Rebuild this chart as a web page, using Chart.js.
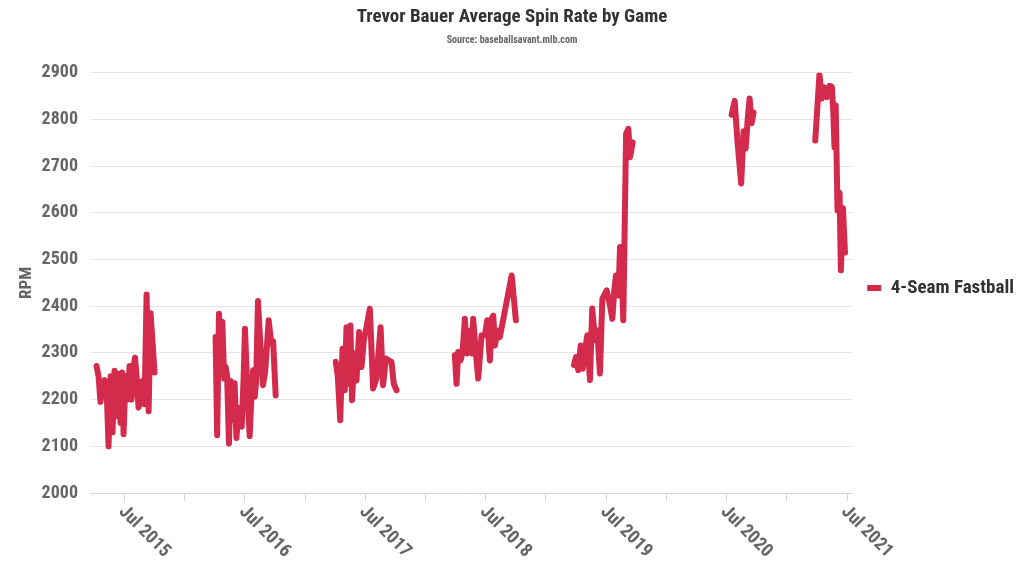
<!DOCTYPE html>
<html>
<head>
<meta charset="utf-8">
<title>Trevor Bauer Average Spin Rate by Game</title>
<script src="https://cdn.jsdelivr.net/npm/chart.js@4.4.1/dist/chart.umd.min.js"></script>
<style>
  html, body { margin: 0; padding: 0; background: #fff; }
  #wrap { width: 1024px; height: 576px; }
</style>
</head>
<body>
<div id="wrap"><canvas id="spinChart" width="1024" height="576"></canvas></div>
<script>
// game dates as fractional years, spin in RPM (4-seam fastball)
var games2015 = [2015.267, 2015.284, 2015.300, 2015.317, 2015.334, 2015.350, 2015.367, 2015.384, 2015.400, 2015.417, 2015.433, 2015.450, 2015.467, 2015.479, 2015.492, 2015.508, 2015.525, 2015.542, 2015.558, 2015.575, 2015.587, 2015.600, 2015.616, 2015.633, 2015.650, 2015.666, 2015.683, 2015.700, 2015.716, 2015.733, 2015.749];
var spin2015  = [2272, 2250, 2195, 2230, 2242, 2230, 2100, 2250, 2130, 2262, 2165, 2255, 2150, 2258, 2126, 2250, 2200, 2272, 2200, 2270, 2290, 2250, 2183, 2200, 2240, 2190, 2425, 2175, 2385, 2320, 2258];

var games2016 = [2016.256, 2016.269, 2016.284, 2016.298, 2016.312, 2016.327, 2016.340, 2016.352, 2016.367, 2016.381, 2016.398, 2016.414, 2016.429, 2016.448, 2016.460, 2016.473, 2016.489, 2016.500, 2016.518, 2016.539, 2016.556, 2016.568, 2016.581, 2016.593, 2016.608, 2016.626, 2016.650, 2016.668, 2016.697, 2016.718, 2016.734, 2016.755];
var spin2016  = [2334, 2124, 2384, 2300, 2366, 2245, 2270, 2250, 2106, 2240, 2156, 2235, 2118, 2182, 2160, 2142, 2250, 2352, 2230, 2122, 2220, 2263, 2206, 2240, 2411, 2327, 2231, 2260, 2370, 2320, 2325, 2209];

var games2017 = [2017.254, 2017.271, 2017.291, 2017.310, 2017.329, 2017.343, 2017.356, 2017.376, 2017.389, 2017.412, 2017.426, 2017.448, 2017.468, 2017.487, 2017.509, 2017.537, 2017.564, 2017.592, 2017.626, 2017.647, 2017.670, 2017.695, 2017.717, 2017.736, 2017.759];
var spin2017  = [2281, 2250, 2156, 2309, 2220, 2355, 2234, 2359, 2199, 2299, 2241, 2345, 2270, 2327, 2355, 2395, 2224, 2245, 2355, 2231, 2288, 2284, 2281, 2234, 2220];

var games2018 = [2018.243, 2018.257, 2018.271, 2018.291, 2018.307, 2018.326, 2018.345, 2018.368, 2018.387, 2018.395, 2018.418, 2018.437, 2018.465, 2018.493, 2018.512, 2018.534, 2018.548, 2018.562, 2018.576, 2018.595, 2018.617, 2018.715, 2018.750];
var spin2018  = [2295, 2234, 2302, 2284, 2302, 2373, 2299, 2348, 2299, 2373, 2299, 2245, 2338, 2338, 2370, 2284, 2373, 2380, 2316, 2348, 2334, 2466, 2370];

var games2019 = [2019.232, 2019.249, 2019.268, 2019.288, 2019.305, 2019.324, 2019.343, 2019.365, 2019.384, 2019.407, 2019.426, 2019.448, 2019.468, 2019.490, 2019.504, 2019.526, 2019.551, 2019.567, 2019.581, 2019.601, 2019.615, 2019.627, 2019.642, 2019.665, 2019.684, 2019.698, 2019.720];
var spin2019  = [2274, 2291, 2263, 2316, 2266, 2306, 2338, 2242, 2395, 2327, 2348, 2256, 2416, 2427, 2434, 2409, 2373, 2434, 2466, 2423, 2527, 2480, 2370, 2769, 2780, 2719, 2751];

var games2020 = [2020.542, 2020.567, 2020.591, 2020.621, 2020.641, 2020.658, 2020.675, 2020.691, 2020.708, 2020.724];
var spin2020  = [2810, 2840, 2750, 2663, 2775, 2738, 2800, 2845, 2792, 2815];

var games2021 = [2021.236, 2021.271, 2021.291, 2021.310, 2021.333, 2021.355, 2021.374, 2021.385, 2021.396, 2021.406, 2021.421, 2021.438, 2021.449, 2021.466, 2021.483];
var spin2021  = [2755, 2896, 2845, 2869, 2848, 2872, 2870, 2822, 2740, 2830, 2605, 2643, 2477, 2610, 2515];

var julTicks  = [2015.5, 2016.5, 2017.5, 2018.5, 2019.5, 2020.5, 2021.5];
var julLabels = ['Jul 2015', 'Jul 2016', 'Jul 2017', 'Jul 2018', 'Jul 2019', 'Jul 2020', 'Jul 2021'];
var janTicks  = [2016, 2017, 2018, 2019, 2020, 2021];

var seasons = [
	[games2015, spin2015],
	[games2016, spin2016],
	[games2017, spin2017],
	[games2018, spin2018],
	[games2019, spin2019],
	[games2020, spin2020],
	[games2021, spin2021]
];

// one series, with a null point between seasons so the line breaks
var points = [];
seasons.forEach(function(s, i){
	s[0].forEach(function(x, j){ points.push({x: x, y: s[1][j]}); });
	if (i < seasons.length - 1) {
		points.push({x: (s[0][s[0].length - 1] + seasons[i + 1][0][0]) / 2, y: null});
	}
});

var fontStack = "'Roboto Condensed', 'Liberation Sans Narrow', 'DejaVu Sans Condensed', Roboto, sans-serif";
var red = '#d42a4b';

// x labels are rotated the other way from chart.js default, so draw them here
var xLabelPlugin = {
	id: 'xLabels',
	afterDraw: function(chart) {
		var ctx = chart.ctx, xs = chart.scales.x;
		ctx.save();
		ctx.font = 'bold 18.5px ' + fontStack;
		ctx.fillStyle = '#666666';
		ctx.textAlign = 'left';
		ctx.textBaseline = 'middle';
		julTicks.forEach(function(v, i){
			var px = xs.getPixelForValue(v);
			ctx.save();
			ctx.translate(px - 3, xs.top + 16);
			ctx.rotate(Math.PI / 4);
			ctx.fillText(julLabels[i], 0, 0);
			ctx.restore();
		});
		ctx.restore();
	}
};

var spinChart = new Chart('spinChart', {
	type: 'line',
	data: {
		datasets: [{
			label: '4-Seam Fastball',
			data: points,
			borderColor: red,
			backgroundColor: red,
			borderWidth: 6,
			borderJoinStyle: 'round',
			borderCapStyle: 'round',
			pointRadius: 0,
			tension: 0,
			spanGaps: false
		}]
	},
	options: {
		responsive: false,
		animation: false,
		layout: { padding: { left: 0, right: 0, top: 0, bottom: 0 } },
		scales: {
			x: {
				type: 'linear',
				min: 2015.213,
				max: 2021.543,
				afterBuildTicks: function(scale){
					scale.ticks = julTicks.concat(janTicks).sort().map(function(v){ return {value: v}; });
				},
				ticks: { display: false },
				grid: { drawOnChartArea: false, drawTicks: true, tickLength: 8, color: '#ccd6eb', lineWidth: 1 },
				border: { color: '#ccd6eb', width: 1 },
				afterFit: function(scale){ scale.height = 83; }
			},
			y: {
				min: 2000,
				max: 2900,
				ticks: {
					stepSize: 100,
					color: '#666666',
					padding: 12,
					font: { family: fontStack, size: 18, weight: 'bold' },
					callback: function(v){ return String(v); }
				},
				grid: { color: '#e6e6e6', drawTicks: false },
				border: { display: false },
				title: {
					display: true,
					text: 'RPM',
					color: '#666666',
					padding: { top: 17, bottom: 0 },
					font: { family: fontStack, size: 17, weight: 'bold' }
				},
				afterFit: function(scale){ scale.width = 90; }
			}
		},
		plugins: {
			title: {
				display: true,
				text: 'Trevor Bauer Average Spin Rate by Game',
				color: '#333333',
				padding: { top: 6, bottom: 6 },
				font: { family: fontStack, size: 19, weight: 'bold' }
			},
			subtitle: {
				display: true,
				text: 'Source: baseballsavant.mlb.com',
				color: '#666666',
				padding: { top: 0, bottom: 26 },
				font: { family: fontStack, size: 10, weight: 'bold' }
			},
			legend: {
				position: 'right',
				labels: {
					boxWidth: 14,
					boxHeight: 6,
					padding: 15,
					color: '#333333',
					font: { family: fontStack, size: 19, weight: 'bold' },
					generateLabels: function(chart){
						return chart.data.datasets.map(function(ds, i){
							return { text: ds.label, fillStyle: ds.borderColor, strokeStyle: ds.borderColor, lineWidth: 0, datasetIndex: i, fontColor: '#333333' };
						});
					}
				}
			},
			tooltip: { enabled: false }
		}
	},
	plugins: [xLabelPlugin]
});
</script>
</body>
</html>
